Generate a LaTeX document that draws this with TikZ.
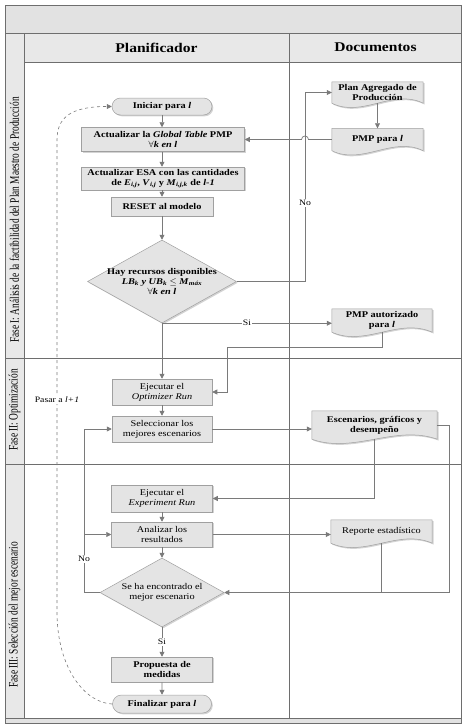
\documentclass[tikz,border=0pt]{standalone}
\usepackage{fontspec}
\setmainfont{Liberation Serif}
\newfontfamily\nf[FakeStretch=1.17]{Liberation Serif}
\newfontfamily\pf[FakeStretch=0.72]{Liberation Serif}
\usetikzlibrary{shapes.geometric,shapes.misc,arrows.meta,calc,shadows}
\pgfdeclarelayer{bg}
\pgfsetlayers{bg,main}

\definecolor{boxfill}{HTML}{E4E4E4}
\definecolor{boxline}{HTML}{A0A0A0}
\definecolor{conn}{HTML}{7A7A7A}
\definecolor{framec}{HTML}{6E6E6E}
\definecolor{bandfill}{HTML}{E2E2E2}
\definecolor{hdrfill}{HTML}{E8E8E8}

\tikzset{
  shad/.style={drop shadow={shadow xshift=1.3pt,shadow yshift=-1.3pt,opacity=0.35,fill=gray}},
  txtb/.style={font=\nf\fontsize{8.8}{10}\selectfont\bfseries},
  txtr/.style={font=\nf\fontsize{8.8}{10}\selectfont},
  proc/.style={rectangle, fill=boxfill, draw=boxline, line width=0.5pt, align=center, inner sep=1pt, shad, txtb},
  term/.style={rounded rectangle, fill=boxfill, draw=boxline, line width=0.5pt, align=center, inner sep=1pt, shad, txtb},
  dec/.style={diamond, fill=boxfill, draw=boxline, line width=0.5pt, align=center, inner sep=-16pt, shad, txtb},
  doc/.style={rectangle, draw=none, align=center, inner sep=1pt, txtb},
  conn/.style={draw=conn, line width=0.7pt},
  arr/.style={conn, -{Triangle[width=5pt,length=5pt]}},
  lbl/.style={fill=white, inner sep=1pt, font=\nf\fontsize{8.3}{9}\selectfont},
  framel/.style={draw=framec, line width=1pt},
  phase/.style={rotate=90, font=\pf\fontsize{13}{14}\selectfont, inner sep=0pt},
  head/.style={font=\nf\fontsize{13.3}{15}\selectfont\bfseries}
}

\newcommand\docdraw[1]{%
  \fill[gray,opacity=0.35,transform canvas={xshift=1.3pt,yshift=-1.3pt}]
    (#1.north west) -- (#1.north east) -- (#1.south east)
    .. controls ($(#1.south east)!1/3!(#1.south west)+(0,15)$) and ($(#1.south east)!2/3!(#1.south west)+(0,-15)$) .. (#1.south west) -- cycle;
  \draw[fill=boxfill,draw=boxline,line width=0.5pt]
    (#1.north west) -- (#1.north east) -- (#1.south east)
    .. controls ($(#1.south east)!1/3!(#1.south west)+(0,15)$) and ($(#1.south east)!2/3!(#1.south west)+(0,-15)$) .. (#1.south west) -- cycle;}

\begin{document}
\begin{tikzpicture}[x=1pt,y=1pt]
\useasboundingbox (0,0) rectangle (466,-728);
% ---------- frame ----------
\fill[bandfill] (5,-5) rectangle (461,-33);
\fill[hdrfill] (5,-33) rectangle (461,-62);
\fill[hdrfill] (5,-62) rectangle (24,-718);
\fill[bandfill] (5,-718) rectangle (461,-723);
\draw[framel] (5,-5) rectangle (461,-723);
\draw[framel] (5,-33) -- (461,-33);
\draw[framel] (24,-62) -- (461,-62);
\draw[framel] (5,-358) -- (461,-358);
\draw[framel] (5,-464) -- (461,-464);
\draw[framel] (5,-718) -- (461,-718);
\draw[framel] (24,-33) -- (24,-718);
\draw[framel] (289,-33) -- (289,-718);

\node[head] (hplan) at (156.5,-47.5) {Planificador};
\node[head] (hdoc) at (375.5,-47.5) {Documentos};

\node[phase] (f1) at (14.5,-220) {Fase I: Análisis de la factibilidad del Plan Maestro de Producción};
\node[phase] (f2) at (14.5,-410) {Fase II: Optimización};
\node[phase] (f3) at (14.5,-615) {Fase III: Selección del mejor escenario};

% ---------- planner column ----------
\node[term, minimum width=102, minimum height=17] (ini) at (162,-106.5) {Iniciar para \textit{l}};
\node[proc, minimum width=163, minimum height=24] (gt) at (163,-139.5) {Actualizar la \textit{Global Table} PMP\\$\forall$\textit{k en l}};
\node[proc, minimum width=163, minimum height=23] (esa) at (163,-178.5) {Actualizar ESA con las cantidades\\de \textit{E}\textsubscript{\textit{i,j}}, \textit{V}\textsubscript{\textit{i,j}} y \textit{M}\textsubscript{\textit{i,j,k}} de \textit{l-1}};
\node[proc, minimum width=102, minimum height=19] (rst) at (162,-206.5) {RESET al modelo};
\node[dec, minimum width=149, minimum height=83] (d1) at (162,-281.5) {Hay recursos disponibles\\\textit{LB}\textsubscript{\textit{k}} \textit{y UB}\textsubscript{\textit{k}} $\leq$ \textit{M}\textsubscript{\textit{máx}}\\$\forall$\textit{k en l}};
\node[proc, txtr, minimum width=100, minimum height=26] (opt) at (162,-392) {Ejecutar el\\\textit{Optimizer Run}};
\node[proc, txtr, minimum width=100, minimum height=26] (sel) at (162,-429) {Seleccionar los\\mejores escenarios};
\node[proc, txtr, minimum width=101, minimum height=27] (exp) at (162,-498.5) {Ejecutar el\\\textit{Experiment Run}};
\node[proc, txtr, minimum width=101, minimum height=25] (ana) at (162,-534.5) {Analizar los\\resultados};
\node[dec, txtr, minimum width=124, minimum height=69] (d2) at (162,-592.5) {Se ha encontrado el\\mejor escenario};
\node[proc, minimum width=101, minimum height=25] (prop) at (162,-669.5) {Propuesta de\\medidas};
\node[term, minimum width=101, minimum height=18] (fin) at (162,-704) {Finalizar para \textit{l}};

% ---------- documents column ----------
\node[doc, minimum width=91, minimum height=21] (pa) at (377.5,-92.5) {Plan Agregado de\\Producción};
\node[doc, minimum width=91, minimum height=22] (pmp) at (377.5,-139.5) {PMP para \textit{l}};
\node[doc, minimum width=100, minimum height=23] (pmpa) at (382,-320.5) {PMP autorizado\\para \textit{l}};
\node[doc, minimum width=125, minimum height=28] (esc) at (374.5,-425) {Escenarios, gráficos y\\desempeño};
\node[doc, txtr, minimum width=101, minimum height=23] (rep) at (381.5,-531.5) {Reporte estadístico};

\begin{pgfonlayer}{bg}
\docdraw{pa}
\docdraw{pmp}
\docdraw{pmpa}
\docdraw{esc}
\docdraw{rep}
\end{pgfonlayer}

% ---------- connectors ----------
\coordinate (c1) at (305,-281.5);
\coordinate (c2) at (227,-347);
\coordinate (c3) at (449,-592.5);
\coordinate (c4) at (84,-429);

\draw[arr] (ini.south) -- (ini.south |- gt.north);
\draw[arr] (gt.south -| ini.south) -- (ini.south |- esa.north);
\draw[arr] (esa.south -| ini.south) -- (rst.north);
\draw[arr] (rst) -- (d1);
\draw[conn] (d1.east) -- (c1);
\draw[arr] (c1) |- (pa.west);
\draw[arr] (pa) -- (pmp);
\draw[arr] (pmp.west) -- (308.5,-139.5) arc[start angle=0,end angle=180,radius=3.5] -- (gt.east);
\draw[arr] (d1.south) -- (d1.south -| pmpa.west) node[lbl, pos=0.5] (si1) {Si};
\draw[arr] (d1) -- (opt);
\draw[conn] (pmpa.south) |- (c2);
\draw[arr] (c2) |- (opt.east);
\draw[arr] (opt) -- (sel);
\draw[arr] (sel.east) -- (sel.east -| esc.west);
\draw[arr] (esc.south) |- (exp.east);
\draw[arr] (esc.east) -| (c3) -- (d2.east);
\draw[conn] (rep.south) -- (rep.south |- c3);
\draw[arr] (exp) -- (ana);
\draw[arr] (ana.east) -- (ana.east -| rep.west);
\draw[arr] (ana) -- (d2);
\draw[arr] (d2.west) -| (c4) -- (sel.west);
\draw[arr] (ana.west -| c4) -- (ana.west);
\node[lbl] (no2) at (84,-559) {No};
\node[lbl] (no1) at (305,-203) {No};
\draw[arr] (d2) -- (prop) node[lbl, midway] (si2) {Si};
\draw[arr] (prop) -- (fin);
\draw[arr, dashed, line width=0.6pt] (fin.west) .. controls (85,-703) and (57,-668) .. (57,-612) -- (57,-140) .. controls (57,-118) and (70,-106.5) .. (ini.west);
\node[lbl, fill=white] (pasar) at (57,-400) {Pasar a \textit{l+1}};
\end{tikzpicture}
\end{document}
